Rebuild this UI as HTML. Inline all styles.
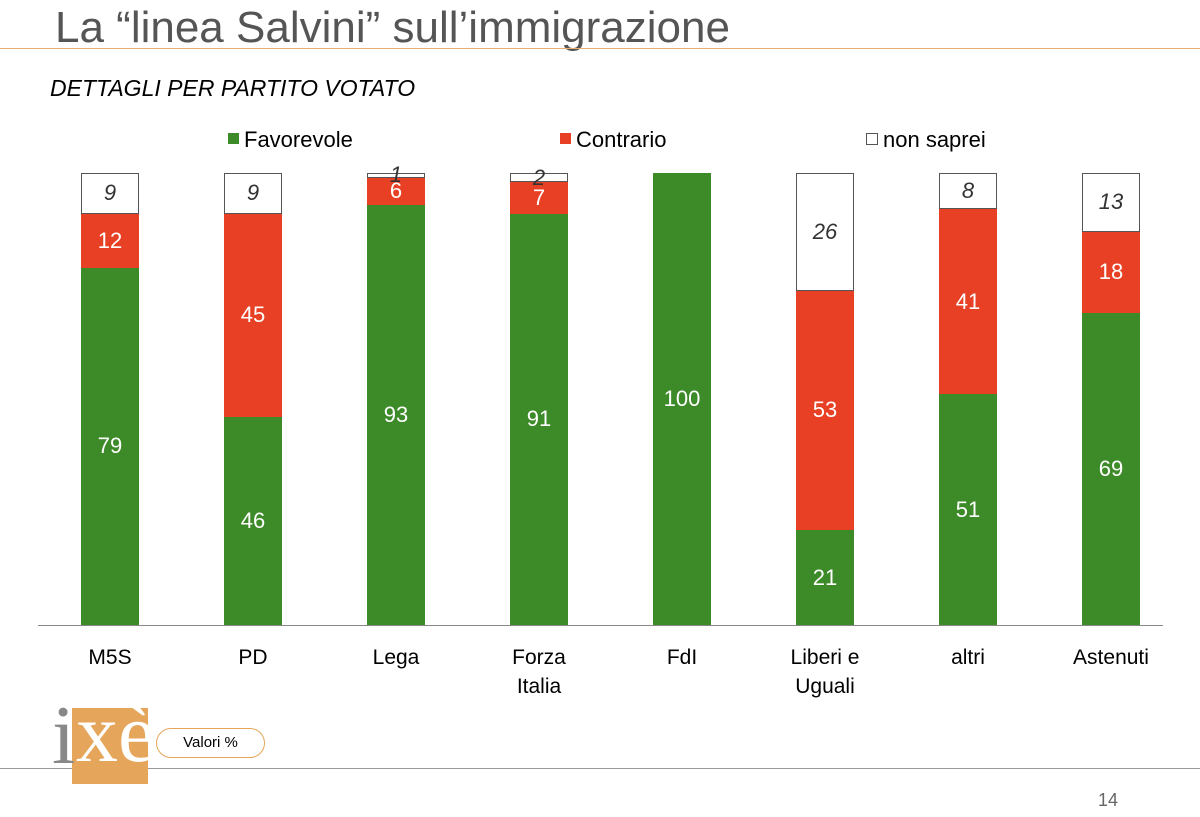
<!DOCTYPE html><html><head><style>
body{margin:0;width:1200px;height:817px;background:#fff;position:relative;overflow:hidden;font-family:"Liberation Sans",sans-serif}
.a{position:absolute}
.g{background:#3c8a28}.r{background:#e84024}.w{background:#fff;border:1px solid #555;box-sizing:border-box}
.t{position:absolute;width:58px;text-align:center;font-size:22px;color:#fff}
.i{color:#333;font-style:italic}
.x{position:absolute;width:140px;text-align:center;font-size:21px;color:#000;line-height:29px;top:643px}
</style></head><body>
<div class="a" style="left:55px;top:3px;font-size:44px;color:#555">La “linea Salvini” sull’immigrazione</div>
<div class="a" style="left:0;top:48px;width:1200px;height:1px;background:#e8b070"></div>
<div class="a" style="left:50px;top:75px;font-size:23px;font-style:italic">DETTAGLI PER PARTITO VOTATO</div>
<div class="a g" style="left:228px;top:133px;width:11px;height:11px"></div><div class="a" style="left:244px;top:127px;font-size:22px">Favorevole</div>
<div class="a r" style="left:560px;top:133px;width:11px;height:11px"></div><div class="a" style="left:576px;top:127px;font-size:22px">Contrario</div>
<div class="a w" style="left:866px;top:133px;width:12px;height:12px"></div><div class="a" style="left:883px;top:127px;font-size:22px">non saprei</div>
<div class="a" style="left:38px;top:625px;width:1125px;height:1px;background:#888"></div>
<div id="c"></div>
<div class="a" style="left:0;top:768px;width:1200px;height:1px;background:#999"></div>
<div class="a" style="left:72px;top:708px;width:76px;height:76px;background:#e5a55a"></div>
<div class="a" style="left:52px;top:694px;font-family:'Liberation Serif',serif;font-size:84px;color:#888;line-height:84px">i</div>
<div class="a" style="left:76px;top:692px;font-family:'Liberation Serif',serif;font-size:84px;color:#fff;line-height:84px">xè</div>
<div class="a" style="left:156px;top:728px;width:109px;height:30px;border:1.5px solid #e5a55a;border-radius:16px;box-sizing:border-box;text-align:center;font-size:15px;line-height:27px">Valori %</div>
<div class="a" style="left:1098px;top:790px;font-size:18px;color:#666">14</div>
<script>
var d=[["M5S",79,12,9],["PD",46,45,9],["Lega",93,6,1],["Forza<br>Italia",91,7,2],["FdI",100,0,0],["Liberi e<br>Uguali",21,53,26],["altri",51,41,8],["Astenuti",69,18,13]];
var h="",k=4.52,B=625;
d.forEach(function(e,i){var L=81+i*143;var g=e[1]*k,r=e[2]*k,w=e[3]*k;
h+='<div class="a g" style="left:'+L+'px;top:'+(B-g)+'px;width:58px;height:'+g+'px"></div>';
h+='<div class="t" style="left:'+L+'px;top:'+(B-g/2-13)+'px">'+e[1]+'</div>';
if(r){h+='<div class="a r" style="left:'+L+'px;top:'+(B-g-r)+'px;width:58px;height:'+r+'px"></div>';
h+='<div class="t" style="left:'+L+'px;top:'+(B-g-r/2-13)+'px">'+e[2]+'</div>';}
if(w){h+='<div class="a w" style="left:'+L+'px;top:'+(B-g-r-w)+'px;width:58px;height:'+w+'px"></div>';
h+='<div class="t i" style="left:'+L+'px;top:'+(B-g-r-w/2-13)+'px">'+e[3]+'</div>';}
h+='<div class="x" style="left:'+(L-41)+'px">'+e[0]+'</div>';});
document.getElementById("c").innerHTML=h;
</script></body></html>
